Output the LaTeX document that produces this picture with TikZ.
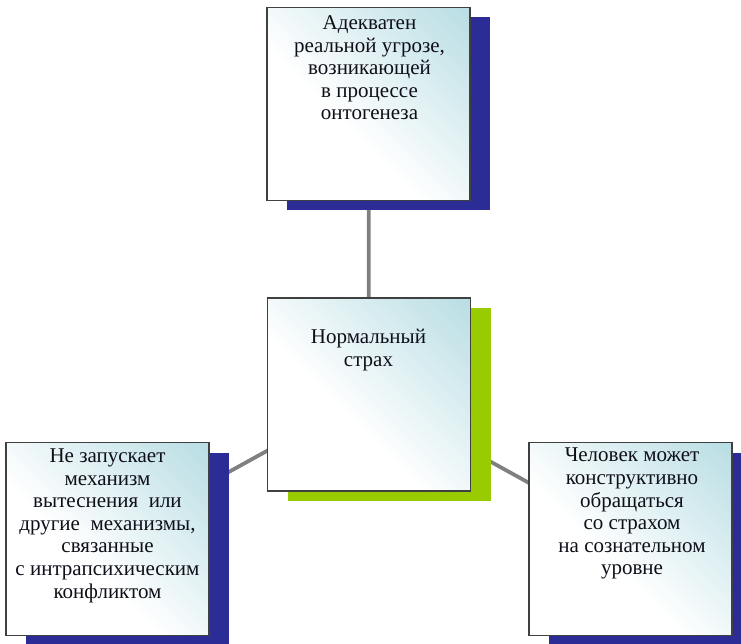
\documentclass[tikz,border=0pt]{standalone}
\usepackage{fontspec}
\setmainfont{Liberation Serif}
\definecolor{tealpale}{RGB}{160,210,218}
\definecolor{navyshadow}{RGB}{44,44,150}
\definecolor{greenshadow}{RGB}{153,204,0}
\definecolor{boxborder}{RGB}{64,64,64}
\definecolor{conncol}{RGB}{128,128,128}
\definecolor{textcol}{RGB}{15,15,25}
\pgfdeclareverticalshading{boxshade}{100bp}{color(0bp)=(white); color(42bp)=(white); color(100bp)=(tealpale)}
\begin{document}
\begin{tikzpicture}[x=1pt,y=-1pt,
  box/.style={draw=boxborder, line width=1.6pt, shading=boxshade, shading angle=-45,
    minimum width=203pt, minimum height=193pt, inner sep=0pt, outer sep=0pt},
  shadowbox/.style={fill=#1, minimum width=203pt, minimum height=193pt, inner sep=0pt, outer sep=0pt},
  lbl/.style={font=\rmfamily\fontsize{21}{22.6}\selectfont, align=center, anchor=north, inner sep=0pt, text=textcol},
  conn/.style={draw=conncol, line width=3.8pt}]
\useasboundingbox (0,0) rectangle (741,644);
\clip (0,0) rectangle (741,644);
% anchors
\coordinate (ctop) at (368.5,104);
\coordinate (cmid) at (369,394.5);
\coordinate (cleft) at (107.5,539);
\coordinate (cright) at (630.5,539);
% connectors
\draw[conn] (cmid) -- (ctop);
\draw[conn] (cmid) -- (cleft);
\draw[conn] (cmid) -- (cright);
% shadows
\node[shadowbox=navyshadow] (stop) at ([shift={(20,10)}]ctop) {};
\node[shadowbox=greenshadow] (smid) at ([shift={(20,10)}]cmid) {};
\node[shadowbox=navyshadow] (sleft) at ([shift={(20,10)}]cleft) {};
\node[shadowbox=navyshadow] (sright) at ([shift={(20,10)}]cright) {};
% boxes
\node[box] (btop) at (ctop) {};
\node[box] (bmid) at (cmid) {};
\node[box] (bleft) at (cleft) {};
\node[box] (bright) at (cright) {};
% texts
\node[lbl] (ttop) at (369.5,15.5) {Адекватен\\реальной угрозе,\\возникающей\\в процессе\\онтогенеза};
\node[lbl] (tmid) at (368.5,329) {Нормальный\\страх};
\node[lbl] (tleft) at (107.5,448.5) {Не запускает\\механизм\\вытеснения\ \ или\\другие\ \ механизмы,\\связанные\\с интрапсихическим\\конфликтом};
\node[lbl] (tright) at (632,448) {Человек может\\конструктивно\\обращаться\\со страхом\\на сознательном\\уровне};
\end{tikzpicture}
\end{document}
